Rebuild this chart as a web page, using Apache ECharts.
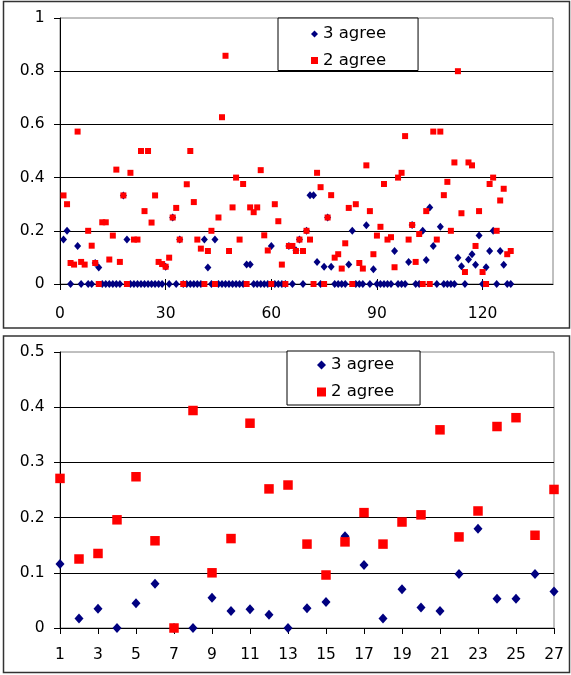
<!DOCTYPE html>
<html>
<head>
<meta charset="utf-8">
<script src="https://cdn.jsdelivr.net/npm/echarts@6/dist/echarts.min.js"></script>
<style>
  html, body { margin: 0; padding: 0; background: #fff; }
  #chart { width: 571px; height: 675px; }
</style>
</head>
<body>
<div id="chart"></div>
<script>
// Top panel: 128 items, share of items where 3 / 2 annotators agree.
const top3Agree = [
  0.167, 0.2, 0, null, 0.143, 0, null, 0, 0, 0.079,
  0.062, 0, 0, 0, 0, 0, 0, 0.333, 0.167, 0,
  0, 0, 0, 0, 0, 0, 0, 0, 0, 0.065,
  0, 0.25, 0, 0.167, 0, 0, 0, 0, 0, 0,
  0.167, 0.062, 0, 0.167, 0, 0, 0, 0, 0, 0,
  0, 0, 0.073, 0.073, 0, 0, 0, 0, 0, 0.143,
  0, 0, 0, 0, 0.143, 0, 0.127, 0.167, 0, 0.2,
  0.334, 0.334, 0.083, 0, 0.065, 0.25, 0.065, 0, 0, 0,
  0, 0.073, 0.2, 0, 0, 0, 0.221, 0, 0.055, 0,
  0, 0, 0, 0, 0.124, 0, 0, 0, 0.083, 0.222,
  0, 0, 0.2, 0.09, 0.288, 0.143, 0, 0.215, 0, 0,
  0, 0, 0.099, 0.067, 0, 0.092, 0.112, 0.072, 0.182, 0,
  0.063, 0.124, 0.2, 0, 0.124, 0.072, 0, 0
];
const top2Agree = [
  0.333, 0.3, 0.079, 0.073, 0.573, 0.083, 0.073, 0.2, 0.144, 0.079,
  0, 0.232, 0.232, 0.092, 0.182, 0.43, 0.083, 0.333, 0, 0.418,
  0.167, 0.167, 0.5, 0.274, 0.5, 0.231, 0.333, 0.083, 0.075, 0.065,
  0.099, 0.25, 0.286, 0.167, 0, 0.375, 0.5, 0.308, 0.167, 0.133,
  0, 0.124, 0.2, 0, 0.25, 0.627, 0.858, 0.124, 0.288, 0.4,
  0.167, 0.376, 0, 0.288, 0.27, 0.288, 0.428, 0.183, 0.126, 0,
  0.3, 0.236, 0.073, 0, 0.143, 0.143, 0.124, 0.167, 0.124, 0.2,
  0.167, 0, 0.418, 0.364, 0, 0.25, 0.334, 0.099, 0.112, 0.058,
  0.153, 0.286, 0, 0.3, 0.079, 0.058, 0.446, 0.274, 0.112, 0.182,
  0.215, 0.376, 0.167, 0.176, 0.063, 0.4, 0.418, 0.556, 0.167, 0.222,
  0.083, 0.188, 0, 0.274, 0, 0.573, 0.167, 0.573, 0.334, 0.384,
  0.2, 0.457, 0.8, 0.266, 0.045, 0.457, 0.446, 0.143, 0.274, 0.045,
  0, 0.376, 0.4, 0.2, 0.314, 0.358, 0.112, 0.124
];
const topXTicks = [0, 30, 60, 90, 120];

// Bottom panel: 27 items.
const bottom3Agree = [
  0.116, 0.017, 0.035, 0, 0.045, 0.080, 0, 0, 0.055, 0.031,
  0.034, 0.024, 0, 0.036, 0.047, 0.166, 0.114, 0.017, 0.070, 0.037,
  0.031, 0.098, 0.180, 0.053, 0.053, 0.098, 0.066
];
const bottom2Agree = [
  0.271, 0.125, 0.135, 0.196, 0.274, 0.158, 0, 0.394, 0.1, 0.162,
  0.371, 0.252, 0.259, 0.152, 0.096, 0.156, 0.209, 0.152, 0.192, 0.205,
  0.359, 0.165, 0.212, 0.365, 0.381, 0.168, 0.251
];

const NAVY = '#000080';
const RED = '#ff0000';
const FONT = 'DejaVu Sans';

// item number is the position in the list, starting at 1
const toPoints = (vals) => vals.map((v, i) => [i + 1, v]);

const labelStyle = { color: '#000', fontFamily: FONT, fontSize: 15.5 };

function valueAxis(extra) {
  return Object.assign({
    type: 'value',
    axisLine: { show: true, lineStyle: { color: '#000', width: 1 } },
    axisTick: { show: true, length: 6, lineStyle: { color: '#000' } },
    axisLabel: Object.assign({ margin: 15.5 }, labelStyle),
    splitLine: { show: false },
  }, extra);
}

const gridLines = {
  show: true, showMinLine: false, showMaxLine: false,
  lineStyle: { color: '#000', width: 1 },
};

const legendBase = {
  orient: 'vertical',
  backgroundColor: '#fff',
  borderColor: '#000',
  borderWidth: 1,
  borderRadius: 0,
  selectedMode: false,
  textStyle: { color: '#000', fontFamily: FONT, fontSize: 16.5, lineHeight: 18 },
  data: ['3 agree', '2 agree'],
};

const chart = echarts.init(document.getElementById('chart'), null, { renderer: 'canvas' });
chart.setOption({
  animation: false,
  backgroundColor: '#fff',
  graphic: [
    { type: 'rect', shape: { x: 3.5, y: 1.5, width: 566, height: 326.5 },
      style: { fill: 'none', stroke: '#333', lineWidth: 1.5 }, silent: true },
    { type: 'rect', shape: { x: 3.5, y: 336, width: 566, height: 336.5 },
      style: { fill: 'none', stroke: '#333', lineWidth: 1.5 }, silent: true },
  ],
  grid: [
    { left: 60, top: 18, width: 493, height: 266, show: true, borderColor: '#808080', borderWidth: 1, backgroundColor: 'transparent' },
    { left: 60, top: 352, width: 494, height: 276, show: true, borderColor: '#808080', borderWidth: 1, backgroundColor: 'transparent' },
  ],
  legend: [
    Object.assign({}, legendBase, { left: 278, top: 18, itemWidth: 7, itemHeight: 7, itemGap: 8.5, padding: [7, 32, 1, 33] }),
    Object.assign({}, legendBase, { left: 287, top: 351, itemWidth: 9, itemHeight: 9, itemGap: 9, padding: [5, 26, 4, 30] }),
  ],
  xAxis: [
    valueAxis({
      gridIndex: 0, position: 'bottom', min: 0, max: 140, interval: 30,
      axisLabel: Object.assign({ margin: 21.5, customValues: topXTicks }, labelStyle),
      axisTick: { show: true, length: 6, customValues: topXTicks, lineStyle: { color: '#000' } },
    }),
    // inner half of the crossing tick marks
    valueAxis({
      gridIndex: 0, position: 'bottom', min: 0, max: 140, interval: 30,
      axisLine: { show: false },
      axisLabel: { show: false },
      axisTick: { show: true, inside: true, length: 5, customValues: topXTicks, lineStyle: { color: '#000' } },
    }),
    valueAxis({
      gridIndex: 1, position: 'bottom', min: 1, max: 27, interval: 2,
      axisLabel: Object.assign({ margin: 19 }, labelStyle),
    }),
  ],
  yAxis: [
    valueAxis({ gridIndex: 0, min: 0, max: 1, interval: 0.2, splitLine: gridLines }),
    valueAxis({ gridIndex: 1, min: 0, max: 0.5, interval: 0.1, splitLine: gridLines }),
  ],
  series: [
    { name: '3 agree', type: 'scatter', xAxisIndex: 0, yAxisIndex: 0,
      symbol: 'diamond', symbolSize: [7, 8], itemStyle: { color: NAVY, opacity: 1 },
      data: toPoints(top3Agree) },
    { name: '2 agree', type: 'scatter', xAxisIndex: 0, yAxisIndex: 0,
      symbol: 'rect', symbolSize: 6, itemStyle: { color: RED, opacity: 1 },
      data: toPoints(top2Agree) },
    { name: '3 agree', type: 'scatter', xAxisIndex: 2, yAxisIndex: 1,
      symbol: 'diamond', symbolSize: [9, 10], itemStyle: { color: NAVY, opacity: 1 },
      data: toPoints(bottom3Agree) },
    { name: '2 agree', type: 'scatter', xAxisIndex: 2, yAxisIndex: 1,
      symbol: 'rect', symbolSize: 9.5, itemStyle: { color: RED, opacity: 1 },
      data: toPoints(bottom2Agree) },
  ],
});
</script>
</body>
</html>
